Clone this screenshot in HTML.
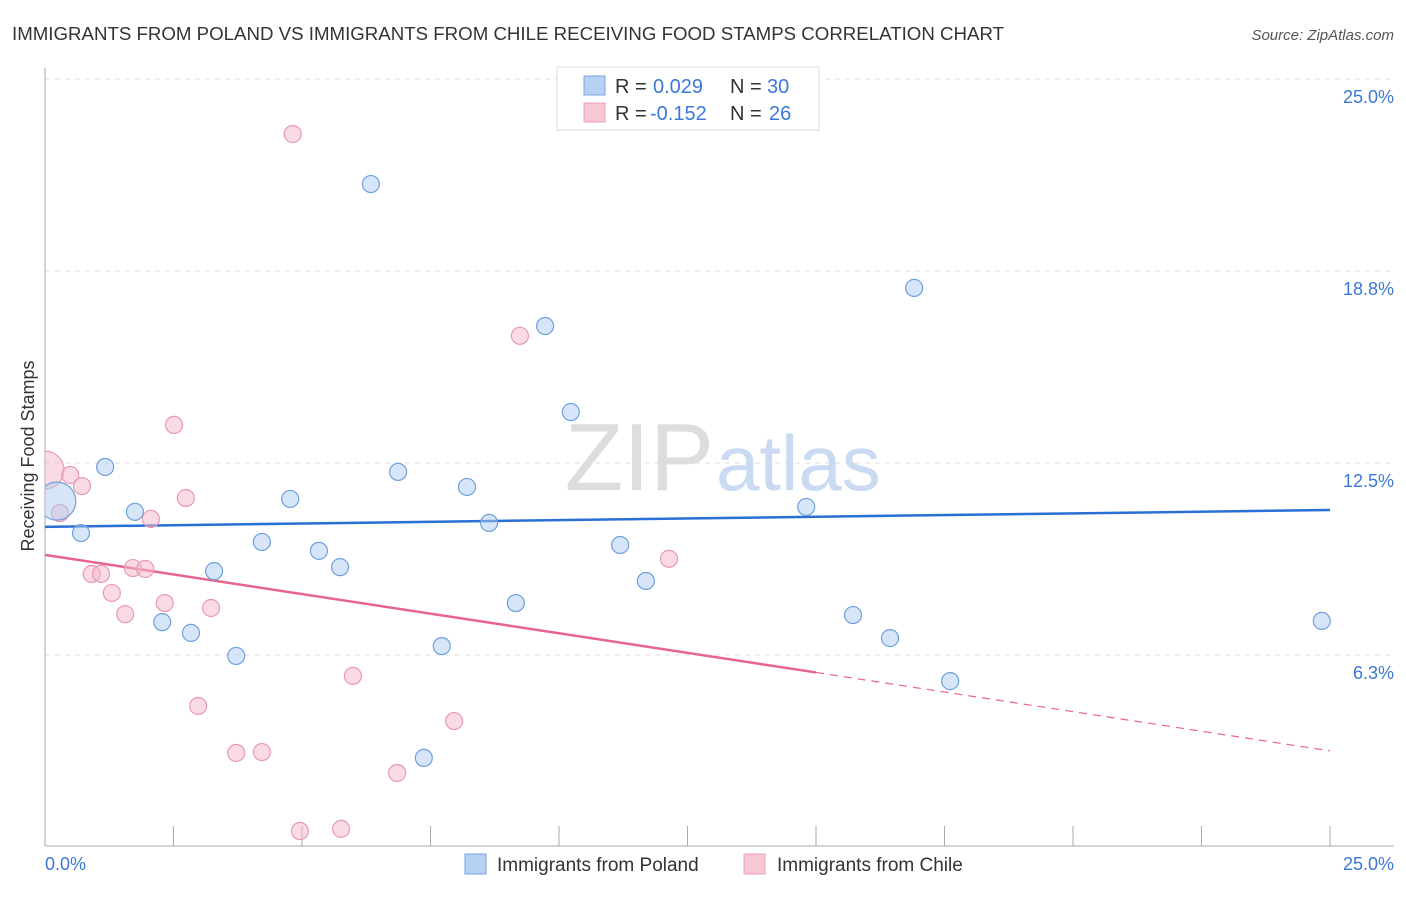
<!DOCTYPE html>
<html><head><meta charset="utf-8"><style>
body{margin:0;background:#fff;font-family:"Liberation Sans",sans-serif;}
svg text{font-family:"Liberation Sans",sans-serif;}
</style></head><body>
<svg width="1406" height="892" xmlns="http://www.w3.org/2000/svg">
<defs><clipPath id="plot"><rect x="45" y="60" width="1360" height="786"/></clipPath></defs>
<text x="12" y="40" font-size="18" fill="#333" textLength="992" lengthAdjust="spacingAndGlyphs">IMMIGRANTS FROM POLAND VS IMMIGRANTS FROM CHILE RECEIVING FOOD STAMPS CORRELATION CHART</text>
<text x="1394" y="40" font-size="15" fill="#555" text-anchor="end" font-style="italic">Source: ZipAtlas.com</text>
<g id="grid"></g>
<text x="714" y="490" font-size="96" fill="#ddd" text-anchor="end" font-family="Liberation Serif">ZIP</text>
<text x="716" y="490" font-size="78" fill="#c9daf2">atlas</text>
<line x1="45" y1="68" x2="45" y2="846" stroke="#aaa"/>
<line x1="45" y1="846" x2="1394" y2="846" stroke="#aaa"/>
<g id="ticks"></g>
<text x="45" y="870" font-size="18" fill="#3b78d8">0.0%</text>
<text x="1394" y="870" font-size="18" fill="#3b78d8" text-anchor="end">25.0%</text>
<text transform="translate(34,456) rotate(-90)" font-size="18" fill="#333" text-anchor="middle">Receiving Food Stamps</text>
<g id="lines"></g>
<g id="points" clip-path="url(#plot)"></g>
<g>
<rect x="557" y="67" width="262" height="63" fill="#fff" stroke="#ddd"/>
<rect x="584" y="76" width="21" height="19" fill="#b7d1f5" stroke="#7aa5e0"/>
<rect x="584" y="103" width="21" height="19" fill="#f9c6d3" stroke="#eaa0b5"/>
<text x="615" y="93" font-size="20" fill="#333">R = </text><text x="653" y="93" font-size="20" fill="#3b78d8">0.029</text>
<text x="730" y="93" font-size="20" fill="#333">N = </text><text x="767" y="93" font-size="20" fill="#3b78d8">30</text>
<text x="615" y="120" font-size="20" fill="#333">R = </text><text x="650" y="120" font-size="20" fill="#3b78d8">-0.152</text>
<text x="730" y="120" font-size="20" fill="#333">N = </text><text x="769" y="120" font-size="20" fill="#3b78d8">26</text>
</g>
<g>
<rect x="465" y="854" width="21" height="20" fill="#b7d1f5" stroke="#7aa5e0"/>
<text x="497" y="871" font-size="19" fill="#333">Immigrants from Poland</text>
<rect x="744" y="854" width="21" height="20" fill="#f9c6d3" stroke="#eaa0b5"/>
<text x="777" y="871" font-size="19" fill="#333">Immigrants from Chile</text>
</g>
</svg>
<script>
const yTicks=[6.25,12.5,18.75,25];
const yTickLabels=["6.3%","12.5%","18.8%","25.0%"];
const polandX=[0.23,0.70,1.17,1.75,2.28,2.84,3.29,3.72,4.22,4.77,5.33,5.74,6.34,6.87,7.37,7.72,8.21,8.64,9.16,9.73,10.23,11.19,11.69,12.98,14.81,15.72,16.44,16.91,17.61,24.84];
const polandY=[11.26,10.22,12.37,10.91,7.32,6.97,8.98,6.22,9.93,11.33,9.64,9.11,21.58,12.21,2.90,6.54,11.72,10.55,7.94,16.96,14.16,9.83,8.66,23.80,11.07,7.55,6.80,18.20,5.40,7.36];
const chileX=[0.0,0.29,0.49,0.72,0.91,1.09,1.30,1.56,1.71,1.95,2.06,2.33,2.51,2.74,2.98,3.23,3.72,4.22,4.82,4.96,5.76,5.99,6.85,7.96,9.24,12.14];
const chileY=[12.27,10.87,12.11,11.75,8.89,8.89,8.27,7.58,9.08,9.05,10.68,7.94,13.74,11.36,4.59,7.78,3.06,3.09,23.21,0.52,0.59,5.57,2.41,4.10,16.64,9.38];
const polandTrend=[10.42,10.97];
const chileTrend=[9.51,3.13];
const chileSolidEnd=15.0;
const X=v=>45+v/25*1285, Y=v=>847-v/25*768;
const NS="http://www.w3.org/2000/svg";
function mk(tag,attrs,parent){const e=document.createElementNS(NS,tag);for(const k in attrs)e.setAttribute(k,attrs[k]);parent.appendChild(e);return e;}
const grid=document.getElementById('grid');
yTicks.forEach((t,i)=>{
 const l=mk('line',{x1:45,x2:1394,y1:Y(t),y2:Y(t),stroke:'#ddd','stroke-dasharray':'5,5'},grid);
 
 
 const tx=mk('text',{x:1394,y:Y(t)+24,'font-size':18,fill:'#3b78d8','text-anchor':'end'},grid);
 tx.textContent=yTickLabels[i];
 
 
});
const ticks=document.getElementById('ticks');
for(let i=1;i<=10;i++){
 const l=mk('line',{x1:X(i*2.5),x2:X(i*2.5),y1:826,y2:846,stroke:'#aaa'},ticks);
 
 
}
const lines=document.getElementById('lines');
const bl=mk('line',{x1:X(0),y1:Y(polandTrend[0]),x2:X(25),y2:Y(polandTrend[1]),stroke:'#2a6fd6','stroke-width':2.5},lines);


const cy=v=>chileTrend[0]+(chileTrend[1]-chileTrend[0])*v/25;
const pl=mk('line',{x1:X(0),y1:Y(chileTrend[0]),x2:X(chileSolidEnd),y2:Y(cy(chileSolidEnd)),stroke:'#e8648f','stroke-width':2.5},lines);


const pd=mk('line',{x1:X(chileSolidEnd),y1:Y(cy(chileSolidEnd)),x2:X(25),y2:Y(chileTrend[1]),stroke:'#e8648f','stroke-width':1.2,'stroke-dasharray':'8,6'},lines);


const pts=document.getElementById('points');
chileX.forEach((x,i)=>{
 const c=mk('circle',{cx:X(x),cy:Y(chileY[i]),r:i==0?19:8.5,fill:'rgba(246,182,200,0.5)',stroke:'#e89ab2','stroke-width':1.2},pts);
 
 
});
polandX.forEach((x,i)=>{
 const c=mk('circle',{cx:X(x),cy:Y(polandY[i]),r:i==0?19:8.5,fill:'rgba(174,203,240,0.5)',stroke:'#6fa0dd','stroke-width':1.2},pts);
 
 
});
</script>
</body></html>
